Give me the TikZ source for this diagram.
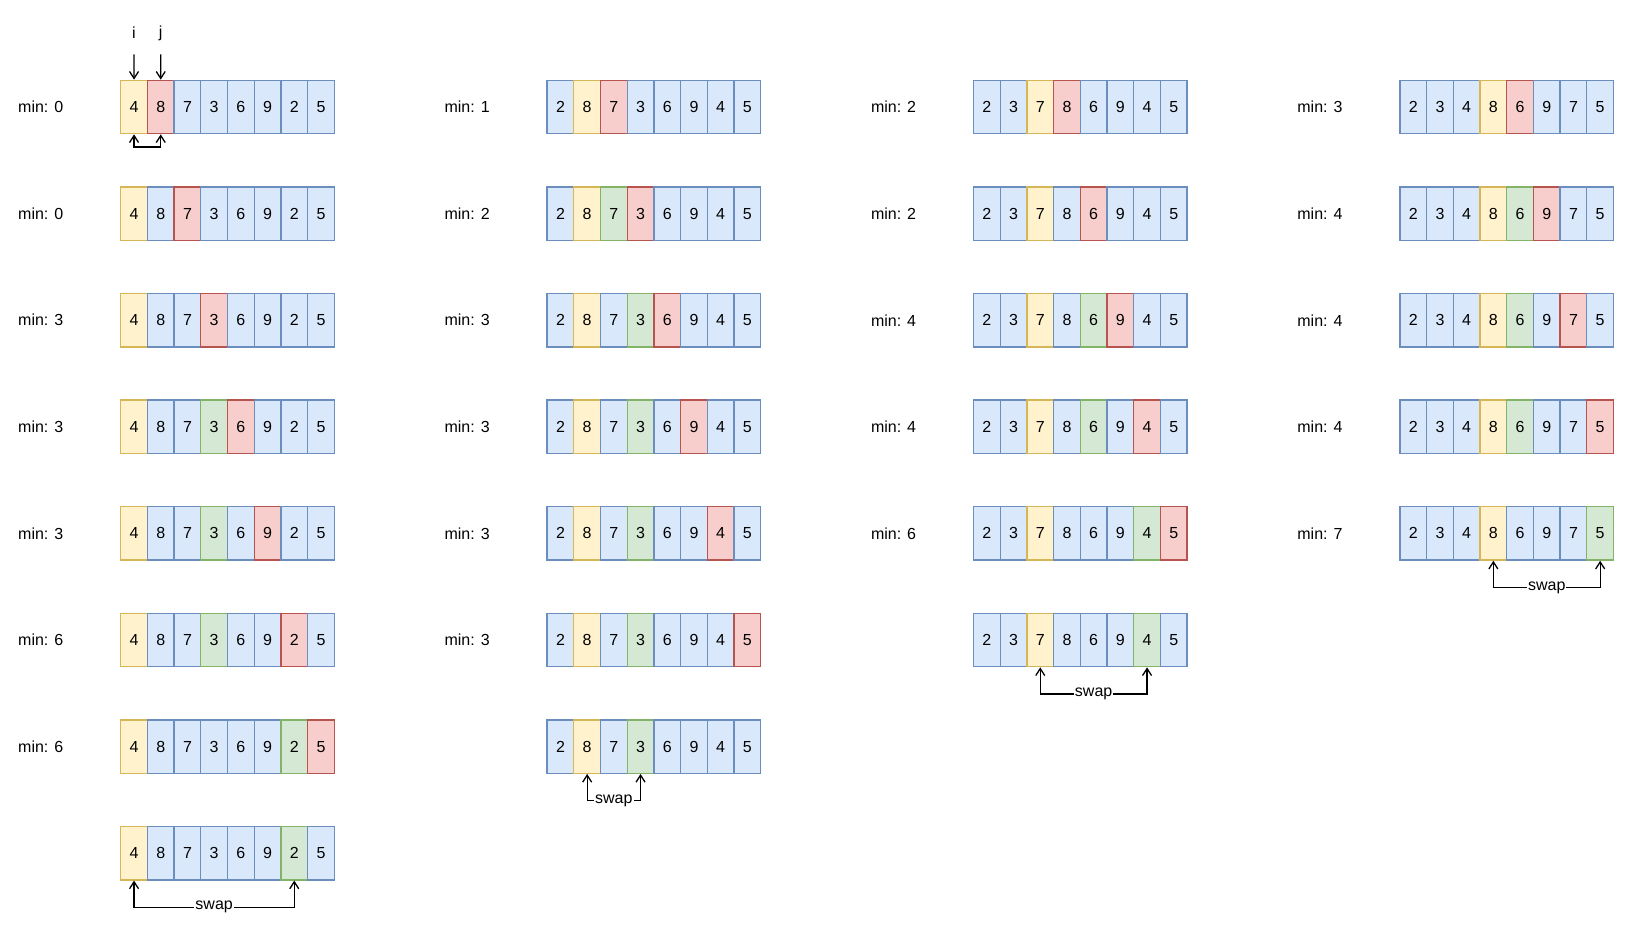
\documentclass[tikz,border=0pt]{standalone}
\usepackage{fontspec}
\setmainfont{Liberation Sans}
\usetikzlibrary{arrows.meta}
\definecolor{bfill}{HTML}{DAE8FC}\definecolor{bline}{HTML}{6C8EBF}
\definecolor{yfill}{HTML}{FFF2CC}\definecolor{yline}{HTML}{D6B656}
\definecolor{rfill}{HTML}{F8CECC}\definecolor{rline}{HTML}{B85450}
\definecolor{gfill}{HTML}{D5E8D4}\definecolor{gline}{HTML}{82B366}
\tikzset{
  txt/.style={font=\fontsize{16}{19}\selectfont},
  cell/.style={txt, draw, line width=1.3pt, minimum width=26.7pt, minimum height=53.4pt, inner sep=0pt},
  cb/.style={fill=bfill, draw=bline},
  cy/.style={fill=yfill, draw=yline},
  cr/.style={fill=rfill, draw=rline},
  cg/.style={fill=gfill, draw=gline},
  lbl/.style={txt, anchor=west, inner sep=0pt},
  arr/.style={line width=1.3pt, -{Straight Barb[length=7pt,width=9pt]}},
  dbl/.style={line width=1.3pt, {Straight Barb[length=7pt,width=9pt]}-{Straight Barb[length=7pt,width=9pt]}},
  swaplbl/.style={txt, fill=white, inner sep=1pt, pos=0.25}
}
\newcommand\cellrow[4]{%
  \foreach \v/\c [count=\k from 0] in {#4}{%
    \node[cell,\c] (#1-\k) at ({#2+13.35+26.7*\k},{#3+26.7}) {\v};}}
\begin{document}
\begin{tikzpicture}[x=1pt,y=-1pt]
\useasboundingbox (0,0) rectangle (1629,934);
% ---------- column 1 ----------
\node[lbl] (l11) at (18,107) {min: 0};
\cellrow{a1}{120.7}{80.3}{4/cy,8/cr,7/cb,3/cb,6/cb,9/cb,2/cb,5/cb}
\node[lbl] (l12) at (18,213.6) {min: 0};
\cellrow{a2}{120.7}{186.9}{4/cy,8/cb,7/cr,3/cb,6/cb,9/cb,2/cb,5/cb}
\node[lbl] (l13) at (18,320.2) {min: 3};
\cellrow{a3}{120.7}{293.5}{4/cy,8/cb,7/cb,3/cr,6/cb,9/cb,2/cb,5/cb}
\node[lbl] (l14) at (18,426.8) {min: 3};
\cellrow{a4}{120.7}{400.1}{4/cy,8/cb,7/cb,3/cg,6/cr,9/cb,2/cb,5/cb}
\node[lbl] (l15) at (18,533.4) {min: 3};
\cellrow{a5}{120.7}{506.7}{4/cy,8/cb,7/cb,3/cg,6/cb,9/cr,2/cb,5/cb}
\node[lbl] (l16) at (18,640) {min: 6};
\cellrow{a6}{120.7}{613.3}{4/cy,8/cb,7/cb,3/cg,6/cb,9/cb,2/cr,5/cb}
\node[lbl] (l17) at (18,746.6) {min: 6};
\cellrow{a7}{120.7}{719.9}{4/cy,8/cb,7/cb,3/cb,6/cb,9/cb,2/cg,5/cr}
\cellrow{a8}{120.7}{826.5}{4/cy,8/cb,7/cb,3/cb,6/cb,9/cb,2/cg,5/cb}
% i, j pointers
\node[txt, inner sep=0pt] (ilab) at (134,33) {i};
\node[txt, inner sep=0pt] (jlab) at (160.7,33) {j};
\coordinate (itop) at (134,54.3);
\coordinate (jtop) at (160.7,54.3);
\draw[arr] (itop) -- (a1-0.north);
\draw[arr] (jtop) -- (a1-1.north);
\draw[dbl] (a1-0.south) -- ++(0,12.7) -| (a1-1.south);
\draw[dbl] (a8-0.south) -- ++(0,26.7) -| node[swaplbl] {swap} (a8-6.south);
% ---------- column 2 ----------
\node[lbl] (l21) at (444.4,107) {min: 1};
\cellrow{b1}{547.1}{80.3}{2/cb,8/cy,7/cr,3/cb,6/cb,9/cb,4/cb,5/cb}
\node[lbl] (l22) at (444.4,213.6) {min: 2};
\cellrow{b2}{547.1}{186.9}{2/cb,8/cy,7/cg,3/cr,6/cb,9/cb,4/cb,5/cb}
\node[lbl] (l23) at (444.4,320.2) {min: 3};
\cellrow{b3}{547.1}{293.5}{2/cb,8/cy,7/cb,3/cg,6/cr,9/cb,4/cb,5/cb}
\node[lbl] (l24) at (444.4,426.8) {min: 3};
\cellrow{b4}{547.1}{400.1}{2/cb,8/cy,7/cb,3/cg,6/cb,9/cr,4/cb,5/cb}
\node[lbl] (l25) at (444.4,533.4) {min: 3};
\cellrow{b5}{547.1}{506.7}{2/cb,8/cy,7/cb,3/cg,6/cb,9/cb,4/cr,5/cb}
\node[lbl] (l26) at (444.4,640) {min: 3};
\cellrow{b6}{547.1}{613.3}{2/cb,8/cy,7/cb,3/cg,6/cb,9/cb,4/cb,5/cr}
\cellrow{b7}{547.1}{719.9}{2/cb,8/cy,7/cb,3/cg,6/cb,9/cb,4/cb,5/cb}
\draw[dbl] (b7-1.south) -- ++(0,26.7) -| node[swaplbl] {swap} (b7-3.south);
% ---------- column 3 ----------
\node[lbl] (l31) at (870.8,107) {min: 2};
\cellrow{c1}{973.5}{80.3}{2/cb,3/cb,7/cy,8/cr,6/cb,9/cb,4/cb,5/cb}
\node[lbl] (l32) at (870.8,213.6) {min: 2};
\cellrow{c2}{973.5}{186.9}{2/cb,3/cb,7/cy,8/cb,6/cr,9/cb,4/cb,5/cb}
\node[lbl] (l33) at (870.8,320.2) {min: 4};
\cellrow{c3}{973.5}{293.5}{2/cb,3/cb,7/cy,8/cb,6/cg,9/cr,4/cb,5/cb}
\node[lbl] (l34) at (870.8,426.8) {min: 4};
\cellrow{c4}{973.5}{400.1}{2/cb,3/cb,7/cy,8/cb,6/cg,9/cb,4/cr,5/cb}
\node[lbl] (l35) at (870.8,533.4) {min: 6};
\cellrow{c5}{973.5}{506.7}{2/cb,3/cb,7/cy,8/cb,6/cb,9/cb,4/cg,5/cr}
\cellrow{c6}{973.5}{613.3}{2/cb,3/cb,7/cy,8/cb,6/cb,9/cb,4/cg,5/cb}
\draw[dbl] (c6-2.south) -- ++(0,26.7) -| node[swaplbl] {swap} (c6-6.south);
% ---------- column 4 ----------
\node[lbl] (l41) at (1297.2,107) {min: 3};
\cellrow{d1}{1399.9}{80.3}{2/cb,3/cb,4/cb,8/cy,6/cr,9/cb,7/cb,5/cb}
\node[lbl] (l42) at (1297.2,213.6) {min: 4};
\cellrow{d2}{1399.9}{186.9}{2/cb,3/cb,4/cb,8/cy,6/cg,9/cr,7/cb,5/cb}
\node[lbl] (l43) at (1297.2,320.2) {min: 4};
\cellrow{d3}{1399.9}{293.5}{2/cb,3/cb,4/cb,8/cy,6/cg,9/cb,7/cr,5/cb}
\node[lbl] (l44) at (1297.2,426.8) {min: 4};
\cellrow{d4}{1399.9}{400.1}{2/cb,3/cb,4/cb,8/cy,6/cg,9/cb,7/cb,5/cr}
\node[lbl] (l45) at (1297.2,533.4) {min: 7};
\cellrow{d5}{1399.9}{506.7}{2/cb,3/cb,4/cb,8/cy,6/cb,9/cb,7/cb,5/cg}
\draw[dbl] (d5-3.south) -- ++(0,26.7) -| node[swaplbl] {swap} (d5-7.south);
\end{tikzpicture}
\end{document}
